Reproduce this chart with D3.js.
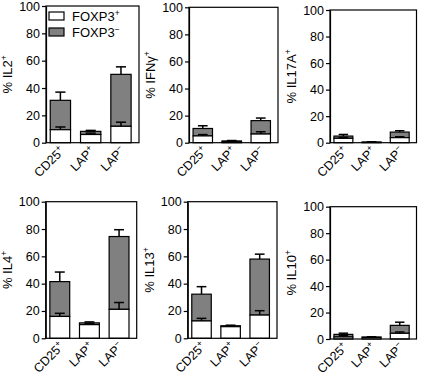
<!DOCTYPE html>
<html><head><meta charset="utf-8">
<script src="https://cdn.jsdelivr.net/npm/d3@7"></script>
<style>body{margin:0;background:#fff}svg{display:block}text{font-family:"Liberation Sans",Arial,sans-serif;fill:#000}</style>
</head><body>
<script>
// ---- data ----
const categories = ["CD25", "LAP", "LAP"];
const categorySups = ["+", "+", "\u2212"];
const panelNames = ["IL2", "IFN\u03b3", "IL17A", "IL4", "IL13", "IL10"];
const seriesNames = ["FOXP3", "FOXP3"];
const seriesSups = ["+", "\u2212"];
const yTicks = [0, 20, 40, 60, 80, 100];
// FOXP3+ mean and SEM (bottom, white segment)
const foxp3PosMean = [[9.5, 6, 12], [5, 0.8, 6.4], [3.3, 0.3, 3.8], [16, 10, 21.2], [12.7, 8.5, 17], [1.5, 1.2, 4.3]];
const foxp3PosErr  = [[2, 1, 3], [1, 0.3, 1.7], [0.7, 0.1, 0.7], [2.3, 0.8, 5], [1.9, 0.5, 3.2], [1, 0.2, 1]];
// FOXP3- segment (stacked on top, grey) and SEM of the total
const foxp3NegMean = [[21.5, 2.3, 38], [5.5, 0.5, 9.9], [1.7, 0.2, 4.2], [25.5, 1.3, 53.3], [19.6, 0.7, 41], [2, 0.3, 6]];
const foxp3NegErr  = [[6, 0.7, 5.5], [2, 0.3, 1.9], [1.2, 0.1, 1], [7, 0.7, 5], [5.5, 0.4, 3.6], [0.9, 0.2, 2.4]];

// ---- layout ----
const W = 422, H = 378;
const frames = [
  {l: 46, r: 139, t: 6, b: 142.7},
  {l: 189, r: 278, t: 7.3, b: 142.7},
  {l: 330, r: 416.5, t: 10, b: 142.7},
  {l: 45.7, r: 136.7, t: 201.7, b: 338.3},
  {l: 187.7, r: 277, t: 201.7, b: 338.3},
  {l: 330, r: 416.5, t: 206.7, b: 339}
];
const grey = "#808080";
const svg = d3.select("body").append("svg").attr("width", W).attr("height", H);

frames.forEach((f, p) => {
  const g = svg.append("g");
  const x = d3.scaleBand().domain(d3.range(categories.length)).range([f.l, f.r])
    .paddingInner(0.33).paddingOuter(0.2).align(0.35);
  const y = d3.scaleLinear().domain([0, 100]).range([f.b, f.t]);

  // bars
  categories.forEach((c, i) => {
    const pos = foxp3PosMean[p][i], neg = foxp3NegMean[p][i];
    const tot = pos + neg;
    const bx = x(i), bw = x.bandwidth(), cx = bx + bw / 2, cap = bw * 0.25;
    g.append("rect").attr("x", bx).attr("y", y(tot)).attr("width", bw).attr("height", y(pos) - y(tot))
      .attr("fill", grey).attr("stroke", "#000").attr("stroke-width", 1.2);
    g.append("rect").attr("x", bx).attr("y", y(pos)).attr("width", bw).attr("height", y(0) - y(pos))
      .attr("fill", "#fff").attr("stroke", "#000").attr("stroke-width", 1.2);
    // error bars (upper only)
    [[pos, foxp3PosErr[p][i]], [tot, foxp3NegErr[p][i]]].forEach(([m, e]) => {
      g.append("line").attr("x1", cx).attr("x2", cx).attr("y1", y(m)).attr("y2", y(m + e))
        .attr("stroke", "#000").attr("stroke-width", 1.5);
      g.append("line").attr("x1", cx - cap).attr("x2", cx + cap).attr("y1", y(m + e)).attr("y2", y(m + e))
        .attr("stroke", "#000").attr("stroke-width", 1.5);
    });
    // category label
    const t = g.append("text").attr("text-anchor", "end").attr("font-size", 12.5)
      .attr("transform", `translate(${cx + 5},${f.b + 9}) rotate(-45)`);
    t.append("tspan").text(c);
    t.append("tspan").attr("font-size", 8.5).attr("dy", -5).text(categorySups[i]);
  });

  // frame
  g.append("rect").attr("x", f.l).attr("y", f.t).attr("width", f.r - f.l).attr("height", f.b - f.t)
    .attr("fill", "none").attr("stroke", "#000").attr("stroke-width", 1.2);

  // y axis
  const ax = g.append("g").attr("transform", `translate(${f.l},0)`)
    .call(d3.axisLeft(y).tickValues(yTicks).tickSize(4).tickSizeOuter(0).tickPadding(2));
  ax.select(".domain").attr("stroke-width", 1.2);
  ax.selectAll(".tick line").attr("stroke-width", 1.2);
  ax.selectAll(".tick text").attr("font-size", 12.5).attr("font-family", "Liberation Sans, Arial, sans-serif").attr("fill", "#000");

  // y title
  const yt = g.append("text").attr("text-anchor", "middle").attr("font-size", 13)
    .attr("transform", `translate(${f.l - 34},${(f.t + f.b) / 2}) rotate(-90)`);
  yt.append("tspan").text("% " + panelNames[p]);
  yt.append("tspan").attr("font-size", 8.5).attr("dy", -5).text("+");

  // legend in first panel
  if (p === 0) {
    seriesNames.forEach((s, k) => {
      const ly = f.t + 6 + k * 16;
      g.append("rect").attr("x", f.l + 3).attr("y", ly).attr("width", 15).attr("height", 8)
        .attr("fill", k === 0 ? "#fff" : grey).attr("stroke", "#000").attr("stroke-width", 1.2);
      const lt = g.append("text").attr("x", f.l + 26).attr("y", ly + 8.5).attr("font-size", 13);
      lt.append("tspan").text(s);
      lt.append("tspan").attr("font-size", 8.5).attr("dy", -5).text(seriesSups[k]);
    });
  }
});
</script>
</body></html>
